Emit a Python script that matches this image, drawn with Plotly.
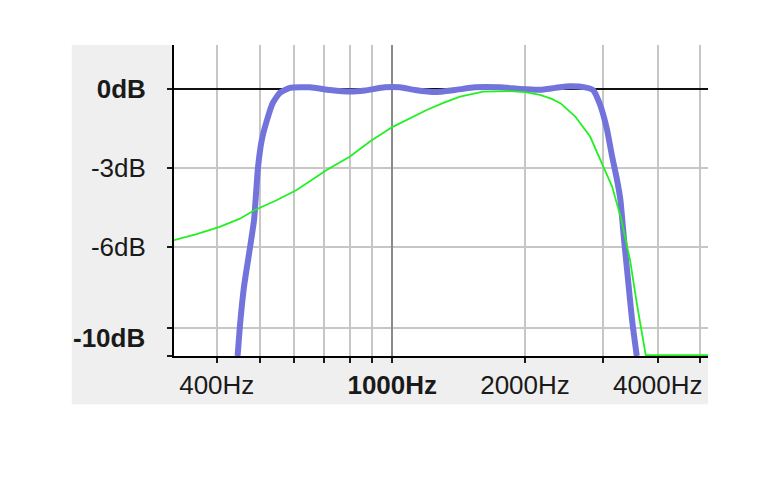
"""Filter response plot: passband (thick blue) vs. reference curve (thin green)."""

import plotly.graph_objects as go

# 频率 (Hz) / 增益 (dB)
blue_freq = [446, 451, 461, 476, 486, 496, 506, 520, 536, 556, 586, 651, 722, 802,
             867, 962, 1041, 1126, 1250, 1388, 1540, 1755, 1949, 2163, 2340, 2530,
             2736, 2853, 2960, 3065, 3146, 3229, 3290, 3355, 3408, 3498, 3585]
blue_db = [-10.15, -9.09, -7.53, -6.01, -4.98, -3.0, -1.94, -1.18, -0.53, -0.15, 0.04,
           0.06, -0.04, -0.1, -0.06, 0.06, 0.06, -0.04, -0.12, -0.04, 0.06, 0.06, 0.0,
           -0.03, 0.04, 0.1, 0.06, -0.04, -0.6, -1.5, -2.5, -3.4, -4.2, -5.74,
           -6.88, -8.78, -10.15]

green_freq = [320, 360, 406, 450, 488, 545, 607, 660, 710, 802, 890, 1000, 1100, 1197,
              1310, 1424, 1608, 1850, 2000, 2163, 2300, 2410, 2600, 2810, 3010, 3150,
              3300, 3461, 3585, 3757, 5200]
green_db = [-5.75, -5.52, -5.24, -4.94, -4.6, -4.24, -3.84, -3.44, -3.08, -2.57, -2.0,
            -1.45, -1.1, -0.8, -0.52, -0.29, -0.1, -0.08, -0.12, -0.23, -0.38, -0.55,
            -1.05, -1.81, -2.95, -3.7, -4.9, -6.5, -8.14, -10.12, -10.12]

x_grid = [400, 500, 600, 700, 800, 900, 1000, 2000, 3000, 4000, 5000]
x_labels = ["400Hz", "", "", "", "", "", "<b>1000Hz</b>", "2000Hz", "", "4000Hz", ""]
x_major = [1000]

y_grid = [0, -3, -6, -9.1, -10.15]
y_labels = ["<b>0dB</b>", "-3dB", "-6dB", "", ""]
y_bottom_label = "<b>-10dB</b>"
y_bottom_label_at = -9.47

X_RANGE = [2.5051, 3.716]   # log10(320) .. log10(5200)
Y_RANGE = [-10.15, 1.67]
FONT = dict(family="Liberation Sans, Arial, sans-serif", size=26, color="#1a1a1a")
GRID = "#c6c6c6"
PANEL = "#efefef"

fig = go.Figure()
fig.add_trace(go.Scatter(
    x=green_freq, y=green_db, mode="lines", xaxis="x2",
    line=dict(color="#22f022", width=1.8),
))
fig.add_trace(go.Scatter(
    x=blue_freq, y=blue_db, mode="lines",
    line=dict(color="#7373dc", width=6, shape="spline", smoothing=0.5),
))

fig.update_layout(
    width=773, height=471,
    margin=dict(l=166, r=73, t=37, b=123),
    paper_bgcolor="white",
    plot_bgcolor="white",
    showlegend=False,
    font=FONT,
    xaxis=dict(
        type="log", range=X_RANGE,
        tickmode="array", tickvals=x_grid, ticktext=x_labels,
        showgrid=True, gridcolor=GRID, gridwidth=2,
        ticks="outside", ticklen=5, tickcolor="#1a1a1a", tickwidth=1.5,
        ticklabelstandoff=0,
        showline=True, linecolor="black", linewidth=2,
        zeroline=False,
    ),
    xaxis2=dict(
        type="log", range=X_RANGE, overlaying="x", anchor="y",
        tickmode="array", tickvals=x_major,
        showgrid=True, gridcolor="#8a8a8a", gridwidth=2,
        showticklabels=False, ticks="", showline=False, zeroline=False,
    ),
    yaxis=dict(
        range=Y_RANGE,
        tickmode="array", tickvals=y_grid, ticktext=y_labels,
        showgrid=True, gridcolor=GRID, gridwidth=2,
        zeroline=True, zerolinecolor="#111111", zerolinewidth=2,
        ticks="outside", ticklen=5, tickcolor="#1a1a1a", tickwidth=1.5,
        ticklabelstandoff=16,
        showline=True, linecolor="black", linewidth=2,
    ),
)

# 灰色底板（只铺在坐标区外侧的边距里）
fig.add_shape(type="rect", xref="paper", yref="paper",
              x0=-0.1915, x1=0.0, y0=-0.155, y1=1.0,
              fillcolor=PANEL, line_width=0, layer="below")
fig.add_shape(type="rect", xref="paper", yref="paper",
              x0=0.0, x1=1.0, y0=-0.155, y1=0.0,
              fillcolor=PANEL, line_width=0, layer="below")

fig.add_annotation(
    x=0, xref="paper", y=y_bottom_label_at, yref="y",
    text=y_bottom_label, showarrow=False,
    xanchor="right", yanchor="middle", xshift=-27,
    font=FONT,
)

fig.write_html("out.html")
